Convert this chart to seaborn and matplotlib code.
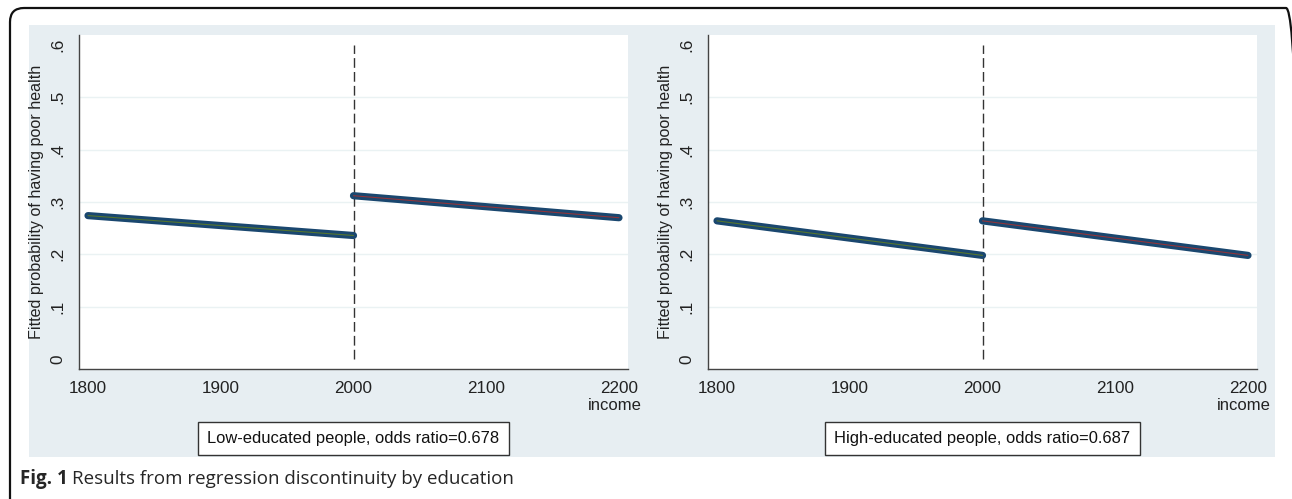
import matplotlib
matplotlib.use("Agg")
import matplotlib.pyplot as plt
import pandas as pd
import seaborn as sns
from matplotlib.patches import FancyBboxPatch, Rectangle

# values
income_below = [1800, 2000]
income_above = [2000, 2200]
low_below = [0.274, 0.236]
low_above = [0.312, 0.270]
high_below = [0.264, 0.198]
high_above = [0.264, 0.198]
panel_notes = ["Low-educated people, odds ratio=0.678",
               "High-educated people, odds ratio=0.687"]
y_ticks = [0, 0.1, 0.2, 0.3, 0.4, 0.5, 0.6]
y_tick_labels = ["0", ".1", ".2", ".3", ".4", ".5", ".6"]
x_ticks = [1800, 1900, 2000, 2100, 2200]
cutoff = 2000

sns.set_style("white")
plt.rcParams["font.family"] = ["Liberation Sans", "DejaVu Sans"]

W, H = 1292, 499
fig = plt.figure(figsize=(W / 100, H / 100), dpi=100)
fig.patch.set_facecolor("white")

# outer frame and stata-ish graph region
fig.patches.append(FancyBboxPatch((10, -30), 1290, H - 8 + 30,
                                  boxstyle="round,pad=0,rounding_size=14",
                                  transform=None, fc="none", ec="#111111", lw=1.6,
                                  zorder=-5))
fig.patches.append(Rectangle((29 / W, 1 - 457 / H), (1275 - 29) / W, (457 - 25) / H,
                             transform=fig.transFigure, fc="#e7eef2", ec="none",
                             zorder=-10))

NAVY = "#1a476f"
panels = [
    (79, low_below, low_above, panel_notes[0]),
    (708, high_below, high_above, panel_notes[1]),
]

for left_px, below, above, note in panels:
    ax = fig.add_axes([left_px / W, 1 - 369 / H, 549 / W, (369 - 35) / H])
    ax.set_facecolor("white")

    seg1 = pd.DataFrame({"income": income_below, "p": below})
    seg2 = pd.DataFrame({"income": income_above, "p": above})
    for seg, inner in [(seg1, "#55752f"), (seg2, "#90353b")]:
        sns.lineplot(data=seg, x="income", y="p", ax=ax, color=NAVY, lw=5.2,
                     solid_capstyle="round", zorder=3)
        sns.lineplot(data=seg, x="income", y="p", ax=ax, color=inner, lw=0.8, zorder=4)

    ax.plot([cutoff, cutoff], [y_ticks[0], y_ticks[-1]], color="#333333", lw=1.0,
            dashes=(7, 3), zorder=2)

    ax.set_xlim(1793.2, 2206.8)
    ax.set_ylim(-0.019, 0.619)
    ax.set_xticks(x_ticks)
    ax.set_xticklabels([str(v) for v in x_ticks], fontsize=12.3, color="#222222")
    ax.set_yticks(y_ticks)
    ax.set_yticklabels(y_tick_labels, rotation=90, va="center", fontsize=12.3,
                       color="#222222")
    ax.tick_params(axis="both", length=5, width=0.9, color="#444444", direction="out")
    ax.tick_params(axis="x", pad=3.5)
    ax.tick_params(axis="y", pad=4.5)

    ax.grid(axis="y", color="#eaf2f3", lw=1.0)
    gl = ax.get_ygridlines()
    gl[0].set_visible(False)
    gl[-1].set_visible(False)
    ax.set_axisbelow(True)

    for s in ["top", "right"]:
        ax.spines[s].set_visible(False)
    for s in ["left", "bottom"]:
        ax.spines[s].set_color("#444444")
        ax.spines[s].set_linewidth(1.0)

    ax.set_ylabel("Fitted probability of having poor health", fontsize=11.6,
                  color="#222222", labelpad=5)
    ax.set_xlabel("income", fontsize=12, color="#222222", loc="right")
    ax.xaxis.set_label_coords(1.025, -0.108)
    ax.xaxis.label.set_va("center")

    ax.text(0.5, -0.207, note, transform=ax.transAxes, ha="center", va="center",
            fontsize=11.9, color="#111111",
            bbox=dict(boxstyle="square,pad=0.55", fc="white", ec="#333333", lw=1.0))

fig.text(20 / W, 1 - 479 / H, "Fig. 1", fontsize=13.5, fontweight="bold",
         family=["Open Sans", "DejaVu Sans"], va="center", ha="left")
fig.text(72 / W, 1 - 479 / H, "Results from regression discontinuity by education",
         fontsize=13.5, family=["Open Sans", "DejaVu Sans"], va="center", ha="left")

fig.savefig("out.png", dpi=100)
